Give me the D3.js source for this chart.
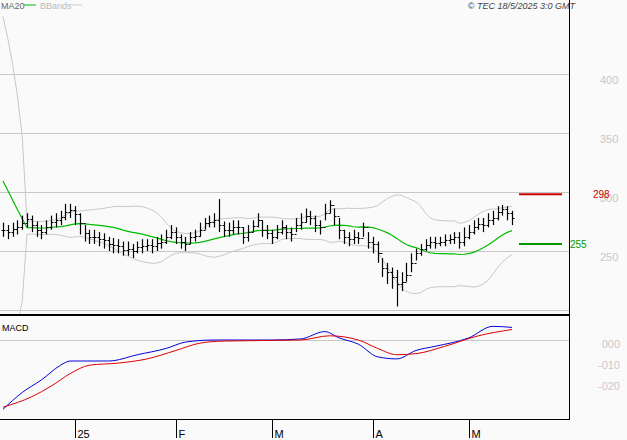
<!DOCTYPE html>
<html><head><meta charset="utf-8">
<script src="https://cdn.jsdelivr.net/npm/d3@7"></script>
<style>body{margin:0;background:#fafafa}svg{display:block}text{font-family:"Liberation Sans",Arial,sans-serif}</style>
</head><body><svg id="c" width="627" height="440"></svg>
<script>
const closes=[268,266,269,270,274,277,272,268,266,270,275,276,279,283,285,281,274,265,262,262,260,259,256,255,254,251,252,250,253,254,255,254,257,258,262,266,262,258,256,262,263,268,274,275,276,272,268,268,270,270,262,266,271,276,268,265,262,266,270,266,264,272,275,280,278,272,270,282,289,280,268,262,260,262,261,270,258,256,248,236,232,228,222,224,230,240,248,252,255,258,257,258,259,260,262,258,262,266,270,273,272,276,278,283,286,282,278];
const highs=[274,272,274,276,280,282,280,275,272,276,280,282,284,290,290,288,282,272,268,268,266,265,262,261,260,258,258,256,258,260,260,260,262,264,268,272,270,264,262,266,268,274,278,280,282,294,275,274,276,276,270,272,276,282,276,272,268,272,276,272,270,278,282,286,284,280,276,290,293,286,278,268,266,268,266,274,266,262,258,244,240,236,234,232,240,248,252,256,260,262,262,262,264,264,266,266,270,272,276,278,278,282,284,288,289,288,284];
const lows=[262,260,262,264,268,270,266,262,260,264,268,270,272,276,278,272,264,258,256,256,254,252,250,248,248,246,246,244,248,248,250,248,250,252,256,260,256,252,250,256,258,262,268,270,270,266,262,262,264,264,256,258,266,270,262,260,256,260,264,260,258,266,268,274,272,266,264,276,282,272,260,256,254,256,256,262,252,248,240,228,222,218,203,216,224,232,242,246,250,252,252,254,254,256,256,252,254,260,264,268,266,270,272,276,280,276,272];
const warmup=[430,430,430,430,430,430,270,272,268,270,266,268,272,270,268,266,270,268,272,270];
const macd=[[0,-0.33],[4,-0.25],[8,-0.19],[12,-0.12],[14,-0.10],[16,-0.10],[22,-0.10],[28,-0.07],[34,-0.04],[38,-0.01],[44,0],[56,0],[62,0.005],[67,0.04],[70,0.01],[74,-0.02],[78,-0.08],[82,-0.09],[86,-0.05],[90,-0.03],[97,0.01],[102,0.065],[106,0.06]];
const signal=[[0,-0.32],[6,-0.27],[10,-0.22],[14,-0.16],[18,-0.12],[24,-0.11],[30,-0.09],[36,-0.05],[41,-0.015],[46,-0.005],[62,0],[68,0.02],[74,0],[78,-0.04],[82,-0.07],[86,-0.065],[92,-0.03],[99,0.02],[106,0.05]];
const priceTicks=[250,300,350,400];
const macdTicks=[["000",0],["-010",-0.1],["-020",-0.2]];
const months=[["25",15],["F",36],["M",56],["A",77],["M",97]];

const svg=d3.select("#c");
const x=d3.scaleLinear().domain([0,106]).range([3,512]);
const y=d3.scaleLinear().domain([250,300]).range([251,192]);
const ym=d3.scaleLinear().domain([-0.1,0]).range([361,340]);
svg.append("rect").attr("width",627).attr("height",440).attr("fill","#fafafa");
svg.append("clipPath").attr("id","cp").append("rect").attr("x",0).attr("y",0).attr("width",569).attr("height",314);
svg.append("clipPath").attr("id","cm").append("rect").attr("x",0).attr("y",317).attr("width",569).attr("height",102);
[200,...priceTicks].forEach(p=>svg.append("line").attr("x1",0).attr("x2",569).attr("y1",Math.round(y(p))+.5).attr("y2",Math.round(y(p))+.5).attr("stroke","#c8c8c8"));
priceTicks.forEach(p=>svg.append("text").attr("x",600).attr("y",y(p)+10).attr("font-size",11).attr("fill","#c8c8c8").text(p));
const all=warmup.concat(closes);
const ma=[],up=[],lo=[];
closes.forEach((c,i)=>{const w=all.slice(i+1,i+21);const m=d3.mean(w),s=d3.deviation(w)*Math.sqrt(19/20);ma.push(m);up.push(m+2*s);lo.push(m-2*s);});
const g=svg.append("g").attr("clip-path","url(#cp)");
const ln=d3.line().x((d,i)=>x(i)).y(d=>y(d));
g.append("path").attr("d",ln(up)).attr("fill","none").attr("stroke","#c8c8c8");
g.append("path").attr("d",ln(lo)).attr("fill","none").attr("stroke","#c8c8c8");
g.append("path").attr("d",ln(ma)).attr("fill","none").attr("stroke","#00bb00").attr("stroke-width",1.2);
closes.forEach((c,i)=>{const xx=Math.round(x(i))+.5,o=i?closes[i-1]:c;
g.append("line").attr("x1",xx).attr("x2",xx).attr("y1",y(highs[i])).attr("y2",y(lows[i])).attr("stroke","#000").attr("stroke-width",1.2);
g.append("line").attr("x1",xx-2).attr("x2",xx).attr("y1",Math.round(y(o))+.5).attr("y2",Math.round(y(o))+.5).attr("stroke","#000");
g.append("line").attr("x1",xx).attr("x2",xx+2).attr("y1",Math.round(y(c))+.5).attr("y2",Math.round(y(c))+.5).attr("stroke","#000");});
[[298,"#cc0000"],[256,"#009900"]].forEach(([p,col])=>{svg.append("line").attr("x1",519).attr("x2",562).attr("y1",y(p)).attr("y2",y(p)).attr("stroke",col).attr("stroke-width",2);});
svg.append("text").attr("x",593).attr("y",y(298)+4).attr("font-size",10).attr("fill","#cc0000").text("298");
svg.append("text").attr("x",570).attr("y",y(256)+4).attr("font-size",10).attr("fill","#009900").text("255");
svg.append("text").attr("x",1).attr("y",9).attr("font-size",9).attr("fill","#666").text("MA20");
svg.append("line").attr("x1",24).attr("x2",36).attr("y1",5).attr("y2",5).attr("stroke","#00bb00");
svg.append("text").attr("x",40).attr("y",9).attr("font-size",9).attr("fill","#bbb").text("BBands");
svg.append("line").attr("x1",70).attr("x2",82).attr("y1",5).attr("y2",5).attr("stroke","#ccc");
svg.append("text").attr("x",575).attr("y",9).attr("font-size",9).attr("font-style","italic").attr("text-anchor","end").attr("fill","#444").text("© TEC 18/5/2025 3:0 GMT");
svg.append("line").attr("x1",0).attr("x2",569).attr("y1",340.5).attr("y2",340.5).attr("stroke","#c8c8c8");
macdTicks.forEach(([t,v])=>svg.append("text").attr("x",620).attr("y",ym(v)+8).attr("text-anchor","end").attr("font-size",11).attr("fill","#c8c8c8").text(t));
svg.append("text").attr("x",2).attr("y",331).attr("font-size",9).attr("fill","#000").text("MACD");
const gm=svg.append("g").attr("clip-path","url(#cm)");
const lm=d3.line().x(d=>x(d[0])).y(d=>ym(d[1])).curve(d3.curveMonotoneX);
gm.append("path").attr("d",lm(macd)).attr("fill","none").attr("stroke","#0000dd");
gm.append("path").attr("d",lm(signal)).attr("fill","none").attr("stroke","#dd0000");
svg.append("line").attr("x1",0).attr("x2",569).attr("y1",315).attr("y2",315).attr("stroke","#000").attr("stroke-width",2);
svg.append("line").attr("x1",0).attr("x2",569).attr("y1",419.5).attr("y2",419.5).attr("stroke","#000");
svg.append("line").attr("x1",569.5).attr("x2",569.5).attr("y1",0).attr("y2",420).attr("stroke","#000");
months.forEach(([t,i])=>{const xx=Math.round(x(i))+.5;
svg.append("line").attr("x1",xx).attr("x2",xx).attr("y1",420).attr("y2",438).attr("stroke","#000");
svg.append("text").attr("x",xx+2).attr("y",438).attr("font-size",11).attr("fill","#000").text(t);});
</script></body></html>
